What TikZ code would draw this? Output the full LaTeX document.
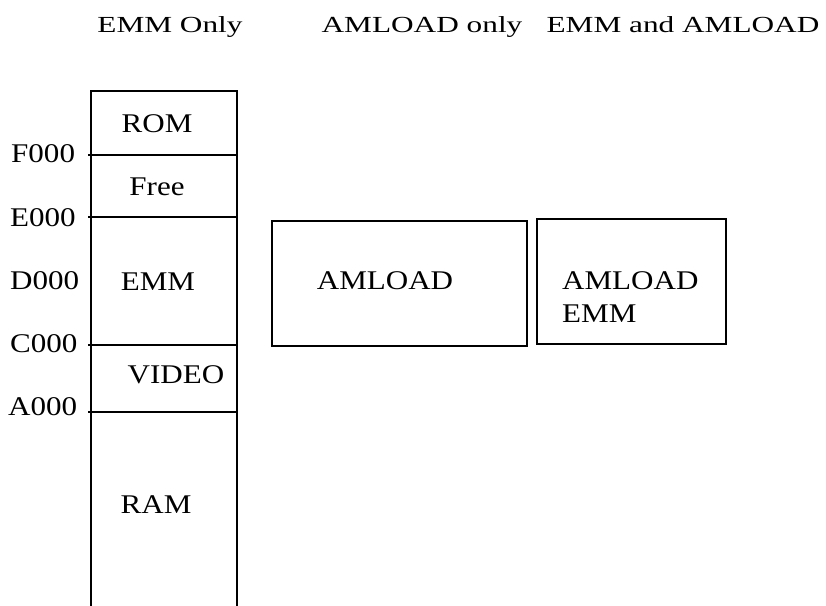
\documentclass[tikz,border=0pt]{standalone}
\usepackage{fontspec}
\setmainfont{Liberation Serif}
\newfontfamily\bodyfont[FakeStretch=1.15]{Liberation Serif}
\newfontfamily\headfont[FakeStretch=1.36]{Liberation Serif}
\begin{document}
\begin{tikzpicture}[x=1pt,y=-1pt,
  txt/.style={inner sep=0pt, font=\bodyfont\fontsize{27}{31}\selectfont},
  hd/.style={inner sep=0pt, font=\headfont\fontsize{23}{27}\selectfont},
  ln/.style={line width=1.2pt, line cap=rect}]
\useasboundingbox (0,0) rectangle (826,605);
% headers
\node[hd, anchor=base] (h1) at (170,32) {EMM Only};
\node[hd, anchor=base] (h2) at (422,32) {AMLOAD only};
\node[hd, anchor=base] (h3) at (683,32) {EMM and AMLOAD};
% memory column
\coordinate (ctl) at (91,91);
\coordinate (ctr) at (237,91);
\coordinate (cbl) at (91,605);
\coordinate (cbr) at (237,605);
\draw[ln] (cbl) -- (ctl) -- (ctr) -- (cbr);
\foreach \yy/\nm in {155/f,217/e,345/c,412/a}{
  \coordinate (l\nm) at (89,\yy);
  \coordinate (r\nm) at (237,\yy);
  \draw[ln] (l\nm) -- (r\nm);
}
% address labels
\node[txt, anchor=base west] (F000) at (11,162) {F000};
\node[txt, anchor=base west] (E000) at (10,226) {E000};
\node[txt, anchor=base west] (D000) at (10,289) {D000};
\node[txt, anchor=base west] (C000) at (10,352) {C000};
\node[txt, anchor=base west] (A000) at (8,415) {A000};
% region texts
\node[txt, anchor=base] (rom) at (157,132) {ROM};
\node[txt, anchor=base] (free) at (157,195) {Free};
\node[txt, anchor=base] (emm) at (158,290) {EMM};
\node[txt, anchor=base] (video) at (176,383) {VIDEO};
\node[txt, anchor=base] (ram) at (156,513) {RAM};
% AMLOAD only box
\coordinate (b1a) at (272,221);
\coordinate (b1b) at (527,346);
\draw[ln] (b1a) rectangle (b1b);
\node[txt, anchor=base] (aml1) at (385,289) {AMLOAD};
% EMM and AMLOAD box
\coordinate (b2a) at (537,219);
\coordinate (b2b) at (726,344);
\draw[ln] (b2a) rectangle (b2b);
\node[txt, anchor=base west] (aml2) at (562,289) {AMLOAD};
\node[txt, anchor=base west] (emm2) at (562,322) {EMM};
\end{tikzpicture}
\end{document}
